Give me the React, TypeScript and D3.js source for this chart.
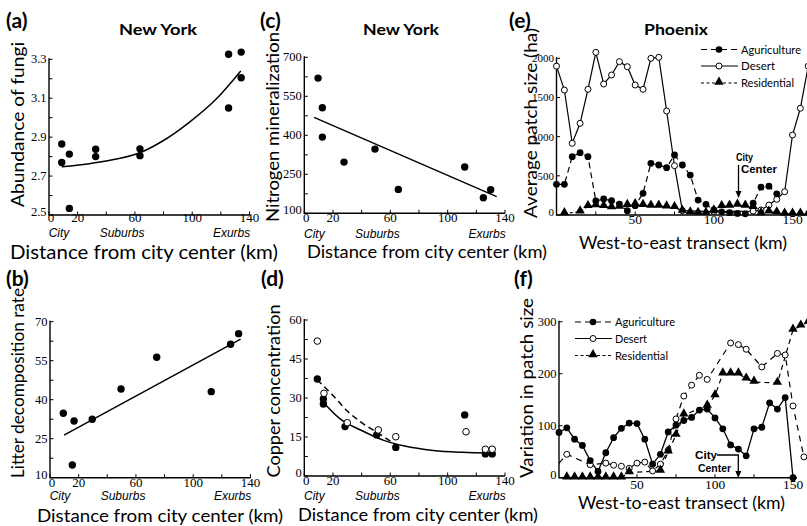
import React from "react";
import * as d3 from "d3";

const SANS = "Lato, 'Open Sans', sans-serif";
const SERIF = "'Liberation Serif', 'DejaVu Serif', serif";

// (a) New York, abundance of fungi
const fungiKm = [8.9, 8.9, 14.2, 14.2, 32.6, 32.6, 63.5, 63.5, 125.4, 134.2, 134.2, 125.4];
const fungiVal = [2.865, 2.77, 2.813, 2.534, 2.838, 2.8, 2.84, 2.805, 3.326, 3.337, 3.205, 3.05];
const fungiFitKm = [8.9, 29.3, 48.9, 63.5, 78.2, 97.7, 117.3, 133.9];
const fungiFitVal = [2.748, 2.765, 2.79, 2.82, 2.875, 2.975, 3.1, 3.24];

// (b) New York, litter decomposition rate
const litterKm = [9.3, 16.8, 15.6, 29.5, 49.6, 74.5, 112.6, 126.1, 131.7];
const litterVal = [34.8, 31.8, 14.9, 32.5, 44.1, 56.3, 43.1, 61.3, 65.4];
const litterFitKm = [9.8, 133.1];
const litterFitVal = [26.4, 63.3];

// (c) New York, nitrogen mineralization
const nitroKm = [9.6, 12.6, 12.6, 27.7, 49.3, 65.6, 111.9, 124.9, 130];
const nitroVal = [620, 506, 393, 297, 347, 192, 278, 160, 191];
const nitroFitKm = [6.8, 134.2];
const nitroFitVal = [469, 164];

// (d) copper concentration, filled and open symbols
const copperKm = [9.1, 13.3, 13.3, 28.4, 50.5, 63.8, 111.9, 126.3, 131.1];
const copperVal = [37.3, 29.6, 27.7, 19, 15.8, 11, 23.5, 8.5, 8.5];
const copperOpenKm = [9.1, 13.7, 30, 51.6, 63.8, 112.8, 126.3, 131.1];
const copperOpenVal = [51.9, 31.8, 20.5, 17.7, 15.1, 17, 10.3, 10.3];
const copperFitKm = [13, 25, 40, 55, 70, 90, 110, 131];
const copperFitVal = [28.5, 22, 17.5, 13.8, 11.5, 9.8, 9.1, 8.8];
const copperOpenFitKm = [9, 20, 30, 40, 50, 64];
const copperOpenFitVal = [37, 31, 25, 20.5, 17, 12];

// (e) Phoenix, average patch size (ha)
const desertKm = [0, 5, 10, 15, 20, 25, 30, 35, 40, 45, 50, 55, 60, 65, 70, 75, 80, 100, 125, 130, 135, 140, 145, 150, 155, 160];
const desertAvg = [1900, 1595, 915, 1170, 1604, 2076, 1672, 1787, 1957, 1893, 1659, 1604, 2000, 2013, 1327, 629, 55, 42, 50, 64, 127, 200, 297, 1021, 1362, 1900];
const agriKm = [0, 5, 10, 15, 20, 25, 30, 35, 40, 45, 50, 55, 60, 65, 70, 75, 80, 85, 90, 95, 100, 105, 110, 115, 120, 125, 130, 135, 140];
const agriAvg = [392, 392, 744, 795, 744, 179, 204, 183, 140, 55, 119, 277, 660, 638, 604, 766, 638, 510, 191, 136, 64, 40, 30, 20, 15, 150, 355, 368, 270];
const resKm = [5, 15, 20, 25, 30, 35, 40, 45, 50, 55, 60, 65, 70, 75, 80, 85, 90, 95, 100, 105, 110, 115, 120, 125, 130, 135, 140, 145, 150, 155, 160];
const resAvg = [20, 42, 110, 120, 110, 95, 100, 125, 135, 125, 115, 115, 105, 98, 50, 30, 25, 25, 55, 110, 115, 128, 115, 98, 20, 40, 30, 15, 15, 15, 15];

// (f) Phoenix, variation in patch size
const agriVarKm = d3.range(0, 151, 5);
const agriVar = [87, 96, 74, 62, 33, 12, 48, 77, 95, 105, 104, 74, 26, 45, 88, 101, 110, 116, 130, 132, 115, 94, 63, 55, 42, 94, 97, 144, 132, 154, 0];
const desertVarKm = [0, 5, 20, 30, 35, 40, 45, 50, 55, 60, 65, 70, 75, 80, 85, 90, 95, 110, 115, 120, 130, 140, 145, 150, 157];
const desertVar = [28, 45, 25, 28, 24, 22, 18, 28, 30, 13, 26, 53, 113, 157, 178, 197, 189, 259, 256, 247, 213, 239, 236, 138, 40];
const resVarKm = [5, 10, 15, 20, 25, 30, 35, 40, 45, 65, 70, 75, 80, 95, 100, 105, 110, 115, 120, 125, 140, 150, 155, 160];
const resVar = [0, 0, 0, 0, 0, 0, 0, 0, 10, 13, 50, 82, 121, 138, 158, 200, 200, 200, 190, 184, 182, 284, 292, 300];

const distLabels = [0, 20, 60, 100, 140];
const distTicks = [0, 20, 40, 60, 80, 100, 120, 140];
const zoneNames = ["City", "Suburbs", "Exurbs"];
const zoneKm = [7, 51, 127.5];
const seriesNames = ["Aguriculture", "Desert", "Residential"];

type Pt = [number, number];
type Lin = d3.ScaleLinear<number, number>;
const zip = (xs: number[], ys: number[]): Pt[] => xs.map((x, i) => [x, ys[i]]);

function Axes(p: {
  x: Lin; y: Lin; xTicks: number[]; xLabels: number[]; yTicks: number[]; yLabels: number[];
  fmt: (v: number) => string; xEnd?: number; xDy: number; xSize?: number; ySize?: number;
}) {
  const { x, y } = p;
  const ox = x.range()[0], oy = y.range()[0];
  const xe = p.xEnd ?? x.range()[1];
  const ye = y.range()[1] - 1;
  return (
    <g>
      <path d={`M${ox},${ye}V${oy}H${xe}`} fill="none" stroke="#000" strokeWidth={1.4} />
      {p.xTicks.map((t) => (
        <line key={"xt" + t} x1={x(t)} x2={x(t)} y1={oy} y2={oy - 3.5} stroke="#000" strokeWidth={1} />
      ))}
      {p.yTicks.map((t) => (
        <line key={"yt" + t} x1={ox} x2={ox + 3.5} y1={y(t)} y2={y(t)} stroke="#000" strokeWidth={1} />
      ))}
      {p.xLabels.map((t) => (
        <text key={"xl" + t} x={x(t) + (t === 0 ? 2 : 0)} y={oy + p.xDy} textAnchor="middle" fontFamily={SERIF} fontSize={p.xSize ?? 13}>
          {t}
        </text>
      ))}
      {p.yLabels.map((t) => (
        <text key={"yl" + t} x={ox - 2.5} y={y(t) + (t === y.domain()[0] ? 1 : 4)} textAnchor="end" fontFamily={SERIF} fontSize={p.ySize ?? 12.5}>
          {p.fmt(t)}
        </text>
      ))}
    </g>
  );
}

function YTitle({ cx, cy, len, text, size = 18 }: { cx: number; cy: number; len: number; text: string; size?: number }) {
  return (
    <text transform={`translate(${cx},${cy}) rotate(-90)`} textAnchor="middle" dy="0.36em" fontFamily={SANS}
      fontSize={size} textLength={len} lengthAdjust="spacingAndGlyphs">
      {text}
    </text>
  );
}

function Title({ x, y, len, text }: { x: number; y: number; len: number; text: string }) {
  return (
    <text x={x} y={y} textAnchor="middle" fontFamily={SANS} fontWeight={700} fontSize={16}
      textLength={len} lengthAdjust="spacingAndGlyphs">{text}</text>
  );
}

function Letter({ x, y, text }: { x: number; y: number; text: string }) {
  return <text x={x} y={y} fontFamily={SANS} fontWeight={700} fontSize={21}>{text}</text>;
}

function Dots({ x, y, data, open = false, r = 3.7 }: { x: Lin; y: Lin; data: Pt[]; open?: boolean; r?: number }) {
  return (
    <g>
      {data.map((d, i) => (
        <circle key={i} cx={x(d[0])} cy={y(d[1])} r={r} fill={open ? "#fff" : "#000"} stroke="#000" strokeWidth={open ? 1 : 0} />
      ))}
    </g>
  );
}

const triPath = d3.symbol().type(d3.symbolTriangle).size(38)() as string;

function Tris({ x, y, data }: { x: Lin; y: Lin; data: Pt[] }) {
  return (
    <g>
      {data.map((d, i) => (
        <path key={i} d={triPath} transform={`translate(${x(d[0])},${y(d[1]) - 1})`} fill="#000" />
      ))}
    </g>
  );
}

function Curve({ x, y, data, dash, w = 1.5, smooth = true }: { x: Lin; y: Lin; data: Pt[]; dash?: string; w?: number; smooth?: boolean }) {
  const gen = d3.line<Pt>().x((d) => x(d[0])).y((d) => y(d[1]));
  if (smooth) gen.curve(d3.curveMonotoneX);
  return <path d={gen(data) as string} fill="none" stroke="#000" strokeWidth={w} strokeDasharray={dash} />;
}

function DistanceLabels({ x, yZone, yTitle, titleX, titleLen, titleSize }: {
  x: Lin; yZone: number; yTitle: number; titleX: number; titleLen: number; titleSize: number;
}) {
  return (
    <g>
      {zoneNames.map((z, i) => (
        <text key={z} x={x(zoneKm[i])} y={yZone} textAnchor="middle" fontFamily="'Liberation Sans', sans-serif"
          fontStyle="italic" fontSize={12}>
          {z}
        </text>
      ))}
      <text x={titleX} y={yTitle} fontFamily={SANS} fontSize={titleSize} textLength={titleLen} lengthAdjust="spacingAndGlyphs">
        Distance from city center (km)
      </text>
    </g>
  );
}

function Legend({ x0, ys, dashes, w }: { x0: number; ys: number[]; dashes: (string | undefined)[]; w: number[] }) {
  return (
    <g>
      {seriesNames.map((n, i) => (
        <g key={n}>
          <line x1={x0} x2={x0 + 37} y1={ys[i]} y2={ys[i]} stroke="#000" strokeWidth={1.2} strokeDasharray={dashes[i]} />
          {i === 0 && <circle cx={x0 + 18} cy={ys[i]} r={3.3} fill="#000" />}
          {i === 1 && <circle cx={x0 + 18} cy={ys[i]} r={3} fill="#fff" stroke="#000" />}
          {i === 2 && <path d={triPath} transform={`translate(${x0 + 18},${ys[i] - 1})`} fill="#000" />}
          <text x={x0 + 40} y={ys[i] + 4} fontFamily={SANS} fontSize={12} textLength={w[i]} lengthAdjust="spacingAndGlyphs">
            {n}
          </text>
        </g>
      ))}
    </g>
  );
}

function CityCenter({ tx, ty, cw, cew, ax, ay1, ay2, elbow }: {
  tx: number; ty: number; cw: number; cew: number; ax: number; ay1: number; ay2: number; elbow?: number;
}) {
  const style = { fontFamily: "'Liberation Sans', sans-serif", fontWeight: 700, fontSize: 11 } as const;
  return (
    <g>
      <text x={tx} y={ty} {...style} textLength={cw} lengthAdjust="spacingAndGlyphs">City</text>
      <text x={tx + (elbow ? 3 : 5)} y={ty + 12.5} {...style} textLength={cew} lengthAdjust="spacingAndGlyphs">Center</text>
      <path d={elbow ? `M${elbow},${ay1}H${ax}V${ay2 - 6}` : `M${ax},${ay1}V${ay2 - 6}`} fill="none" stroke="#000" strokeWidth={1.3} />
      <path d={`M${ax - 3},${ay2 - 7}L${ax + 3},${ay2 - 7}L${ax},${ay2}Z`} fill="#000" />
    </g>
  );
}

export default function App() {
  // (a)
  const xa = d3.scaleLinear().domain([0, 140]).range([49, 249.5]);
  const ya = d3.scaleLinear().domain([2.5, 3.3]).range([215, 59.3]);
  // (b)
  const xb = d3.scaleLinear().domain([0, 140]).range([50, 250.5]);
  const yb = d3.scaleLinear().domain([10, 70]).range([477.7, 321.7]);
  // (c)
  const xc = d3.scaleLinear().domain([0, 140]).range([304.3, 505]);
  const yc = d3.scaleLinear().domain([100, 700]).range([213.3, 57.3]);
  // (d)
  const xd = d3.scaleLinear().domain([0, 140]).range([304.3, 505]);
  const yd = d3.scaleLinear().domain([0, 60]).range([476, 320]);
  // (e)
  const xe = d3.scaleLinear().domain([0, 150]).range([556.5, 792.5]);
  const ye = d3.scaleLinear().domain([0, 2000]).range([215, 58.3]);
  // (f)
  const xf = d3.scaleLinear().domain([0, 150]).range([559, 793]);
  const yf = d3.scaleLinear().domain([0, 300]).range([477.7, 321.7]);

  const fmt1 = (v: number) => v.toFixed(1);
  const fmt0 = (v: number) => String(v);

  return (
    <svg width={807} height={526} viewBox="0 0 807 526"
      style={{ position: "absolute", left: 0, top: 0, background: "#fff" }}>
      <rect width={807} height={526} fill="#fff" />

      {/* (a) */}
      <Letter x={6} y={28} text="(a)" />
      <Title x={158} y={35} len={78} text="New York" />
      <Axes x={xa} y={ya} xTicks={distTicks} xLabels={distLabels} yTicks={d3.range(2.5, 3.31, 0.1)}
        yLabels={[2.5, 2.7, 2.9, 3.1, 3.3]} fmt={fmt1} xDy={7} />
      <Curve x={xa} y={ya} data={zip(fungiFitKm, fungiFitVal)} />
      <Dots x={xa} y={ya} data={zip(fungiKm, fungiVal)} />
      <YTitle cx={18} cy={124.5} len={165} text="Abundance of fungi" />
      <DistanceLabels x={xa} yZone={236.5} yTitle={258.5} titleX={10} titleLen={268} titleSize={20} />

      {/* (c) */}
      <Letter x={260} y={28} text="(c)" />
      <Title x={401} y={35} len={76} text="New York" />
      <Axes x={xc} y={yc} xTicks={distTicks} xLabels={distLabels} yTicks={d3.range(100, 701, 75)}
        yLabels={[100, 250, 400, 550, 700]} fmt={fmt0} xDy={9} />
      <Curve x={xc} y={yc} data={zip(nitroFitKm, nitroFitVal)} smooth={false} />
      <Dots x={xc} y={yc} data={zip(nitroKm, nitroVal)} />
      <YTitle cx={273} cy={127} len={190} text="Nitrogen mineralization" />
      <DistanceLabels x={xc} yZone={237.5} yTitle={258} titleX={307} titleLen={240} titleSize={18} />

      {/* (e) */}
      <Letter x={509} y={28} text="(e)" />
      <Title x={676} y={35} len={64} text="Phoenix" />
      <Axes x={xe} y={ye} xTicks={[25, 50, 75, 100, 125, 150]} xLabels={[50, 100, 150]} yTicks={[0, 500, 1000, 1500, 2000]}
        yLabels={[0, 500, 1000, 1500, 2000]} fmt={fmt0} xEnd={807} xDy={9} xSize={13.5} ySize={11} />
      <Curve x={xe} y={ye} data={zip(desertKm, desertAvg)} w={1.2} smooth={false} />
      <Curve x={xe} y={ye} data={zip(agriKm, agriAvg)} w={1.2} dash="6,4" smooth={false} />
      <Curve x={xe} y={ye} data={zip(resKm, resAvg)} w={1.2} dash="3,2.5" smooth={false} />
      <Dots x={xe} y={ye} data={zip(desertKm, desertAvg)} open r={3} />
      <Dots x={xe} y={ye} data={zip(agriKm, agriAvg)} r={3.4} />
      <Tris x={xe} y={ye} data={zip(resKm, resAvg)} />
      <Legend x0={701} ys={[49.5, 66, 83]} dashes={["6,4", undefined, "3,2.5"]} w={[60, 34, 53]} />
      <CityCenter tx={736} ty={160.5} cw={17} cew={36} ax={738.5} ay1={165} ay2={198} />
      <YTitle cx={531} cy={123} len={190} text="Average patch size (ha)" />
      <text x={579} y={249} fontFamily={SANS} fontSize={18} textLength={208} lengthAdjust="spacingAndGlyphs">
        West-to-east transect (km)
      </text>

      {/* (b) */}
      <Letter x={6} y={286} text="(b)" />
      <Axes x={xb} y={yb} xTicks={distTicks} xLabels={distLabels} yTicks={d3.range(10, 71, 7.5)}
        yLabels={[10, 25, 40, 55, 70]} fmt={fmt0} xDy={9} />
      <Curve x={xb} y={yb} data={zip(litterFitKm, litterFitVal)} smooth={false} />
      <Dots x={xb} y={yb} data={zip(litterKm, litterVal)} />
      <YTitle cx={18} cy={383} len={190} text="Litter decomposition rate" />
      <DistanceLabels x={xb} yZone={500} yTitle={521.5} titleX={37} titleLen={246} titleSize={18} />

      {/* (d) */}
      <Letter x={261} y={286} text="(d)" />
      <Axes x={xd} y={yd} xTicks={distTicks} xLabels={distLabels} yTicks={d3.range(0, 61, 7.5)}
        yLabels={[0, 15, 30, 45, 60]} fmt={fmt0} xDy={9} />
      <Curve x={xd} y={yd} data={zip(copperOpenFitKm, copperOpenFitVal)} dash="6,4" />
      <Curve x={xd} y={yd} data={zip(copperFitKm, copperFitVal)} />
      <Dots x={xd} y={yd} data={zip(copperKm, copperVal)} />
      <Dots x={xd} y={yd} data={zip(copperOpenKm, copperOpenVal)} open r={3.3} />
      <YTitle cx={274} cy={391} len={173} text="Copper concentration" />
      <DistanceLabels x={xd} yZone={499.5} yTitle={521} titleX={298} titleLen={240} titleSize={18} />

      {/* (f) */}
      <Letter x={514} y={286} text="(f)" />
      <Axes x={xf} y={yf} xTicks={[25, 50, 75, 100, 125, 150]} xLabels={[50, 100, 150]} yTicks={[0, 100, 200, 300]}
        yLabels={[0, 100, 200, 300]} fmt={fmt0} xEnd={797} xDy={11} xSize={13.5} ySize={12.5} />
      <Curve x={xf} y={yf} data={zip(desertVarKm, desertVar)} w={1.2} dash="6,5" smooth={false} />
      <Curve x={xf} y={yf} data={zip(resVarKm, resVar)} w={1.2} dash="5,4" smooth={false} />
      <Curve x={xf} y={yf} data={zip(agriVarKm, agriVar)} w={1.3} smooth={false} />
      <Dots x={xf} y={yf} data={zip(desertVarKm.slice(1), desertVar.slice(1))} open r={3} />
      <Tris x={xf} y={yf} data={zip(resVarKm, resVar)} />
      <Dots x={xf} y={yf} data={zip(agriVarKm, agriVar)} r={3.4} />
      <Legend x0={575} ys={[322, 338.5, 355.5]} dashes={["6,4", undefined, "3,2.5"]} w={[60, 32, 53]} />
      <CityCenter tx={695} ty={459} cw={22} cew={33} ax={738.3} ay1={455} ay2={478} elbow={717} />
      <YTitle cx={527} cy={388} len={180} text="Variation in patch size" />
      <text x={578} y={509} fontFamily={SANS} fontSize={18} textLength={207} lengthAdjust="spacingAndGlyphs">
        West-to-east transect (km)
      </text>
    </svg>
  );
}
